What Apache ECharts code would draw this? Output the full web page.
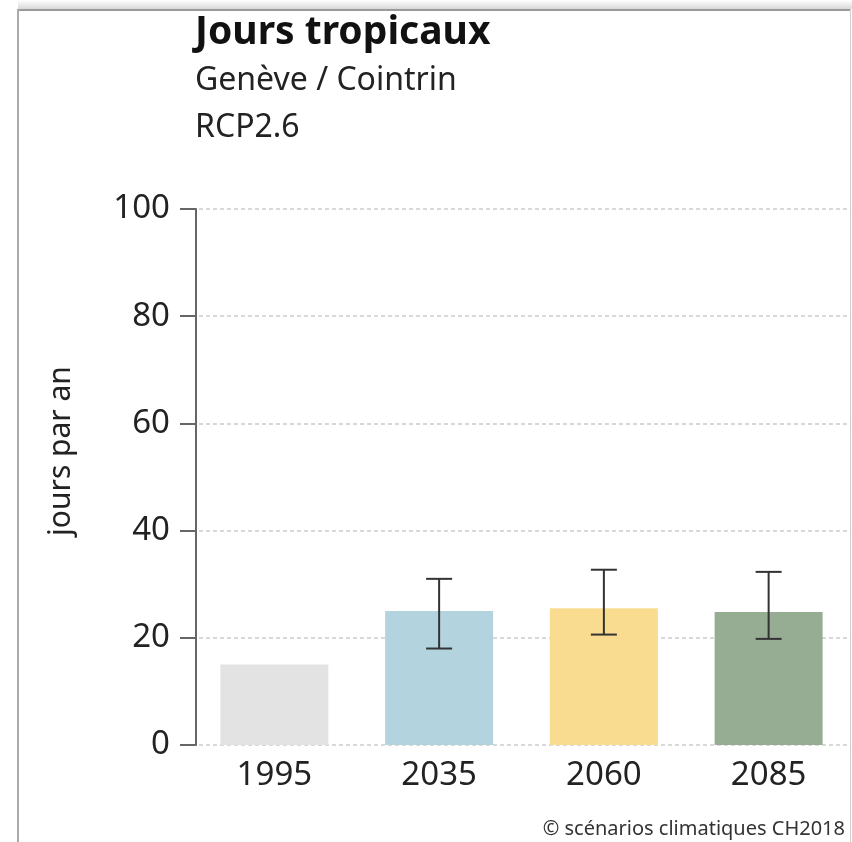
<!DOCTYPE html>
<html>
<head>
<meta charset="utf-8">
<script src="https://cdn.jsdelivr.net/npm/echarts@6/dist/echarts.min.js"></script>
<style>
  html, body { margin: 0; padding: 0; background: #fff; }
  #chart { width: 852px; height: 842px; }
</style>
</head>
<body>
<div id="chart"></div>
<script>
  // données
  var years = ['1995', '2035', '2060', '2085'];
  var meanDays = [15.0, 25.0, 25.5, 24.8];
  var lowDays = [null, 18.0, 20.6, 19.8];
  var highDays = [null, 31.0, 32.7, 32.3];
  var barColors = ['#e3e3e3', '#b3d3de', '#f9dc90', '#96ad93'];
  var yTicks = [0, 20, 40, 60, 80, 100];

  var font = '"Noto Sans", "Open Sans", sans-serif';
  var chart = echarts.init(document.getElementById('chart'));

  var errData = [];
  for (var i = 0; i < years.length; i++) {
    if (lowDays[i] != null) errData.push([i, lowDays[i], highDays[i]]);
  }

  var option = {
    animation: false,
    backgroundColor: '#fff',
    grid: { left: 192, right: 1, top: 209, bottom: 97 },
    xAxis: {
      type: 'category',
      data: years,
      axisLine: { show: false },
      axisTick: { show: false },
      axisLabel: { fontFamily: font, fontSize: 33, color: '#222', margin: 14 }
    },
    yAxis: {
      type: 'value',
      min: yTicks[0],
      max: yTicks[yTicks.length - 1],
      interval: 20,
      offset: -4,
      axisLine: { show: true, lineStyle: { color: '#666', width: 2 } },
      axisTick: { show: true, length: 16, lineStyle: { color: '#666', width: 2 } },
      axisLabel: { fontFamily: font, fontSize: 33, color: '#222', margin: 26 },
      splitLine: { lineStyle: { color: '#cccccc', type: [4, 3], width: 1.5 } }
    },
    series: [{
      type: 'bar',
      barWidth: 108,
      data: meanDays.map(function (v, i) {
        return { value: v, itemStyle: { color: barColors[i] } };
      })
    }, {
      type: 'custom',
      data: errData,
      z: 5,
      renderItem: function (params, api) {
        var x = api.value(0);
        var lo = api.coord([x, api.value(1)]);
        var hi = api.coord([x, api.value(2)]);
        var cap = 13;
        var st = { stroke: '#333', lineWidth: 2 };
        return {
          type: 'group',
          children: [
            { type: 'line', shape: { x1: lo[0], y1: lo[1], x2: hi[0], y2: hi[1] }, style: st },
            { type: 'line', shape: { x1: hi[0] - cap, y1: hi[1], x2: hi[0] + cap, y2: hi[1] }, style: st },
            { type: 'line', shape: { x1: lo[0] - cap, y1: lo[1], x2: lo[0] + cap, y2: lo[1] }, style: st }
          ]
        };
      }
    }],
    graphic: [
      // cadre
      { type: 'rect', left: 18, top: 0, shape: { width: 834, height: 9 },
        style: { fill: new echarts.graphic.LinearGradient(0, 0, 0, 1, [
          { offset: 0, color: '#ffffff' }, { offset: 1, color: '#d8d8d8' }]) } },
      { type: 'rect', left: 17, top: 9, shape: { width: 834, height: 2 }, style: { fill: '#9a9a9a' } },
      { type: 'rect', left: 17, top: 9, shape: { width: 2, height: 833 }, style: { fill: '#aaaaaa' } },
      { type: 'rect', left: 850, top: 9, shape: { width: 1, height: 833 }, style: { fill: '#cfcfcf' } },
      // titres
      { type: 'text', x: 195, y: 33, style: { text: 'Jours tropicaux', font: 'bold 39px ' + font, fill: '#111', verticalAlign: 'middle' } },
      { type: 'text', x: 195, y: 81, style: { text: 'Genève / Cointrin', font: '32px ' + font, fill: '#222', verticalAlign: 'middle' } },
      { type: 'text', x: 195, y: 128, style: { text: 'RCP2.6', font: '32px ' + font, fill: '#222', verticalAlign: 'middle' } },
      { type: 'text', x: 61, y: 451, rotation: Math.PI / 2,
        style: { text: 'jours par an', font: '30px ' + font, fill: '#222', align: 'center', verticalAlign: 'middle' } },
      { type: 'text', x: 845, y: 829, style: { text: '© scénarios climatiques CH2018', font: '20px ' + font, fill: '#333', align: 'right', verticalAlign: 'middle' } }
    ]
  };

  chart.setOption(option);
</script>
</body>
</html>
